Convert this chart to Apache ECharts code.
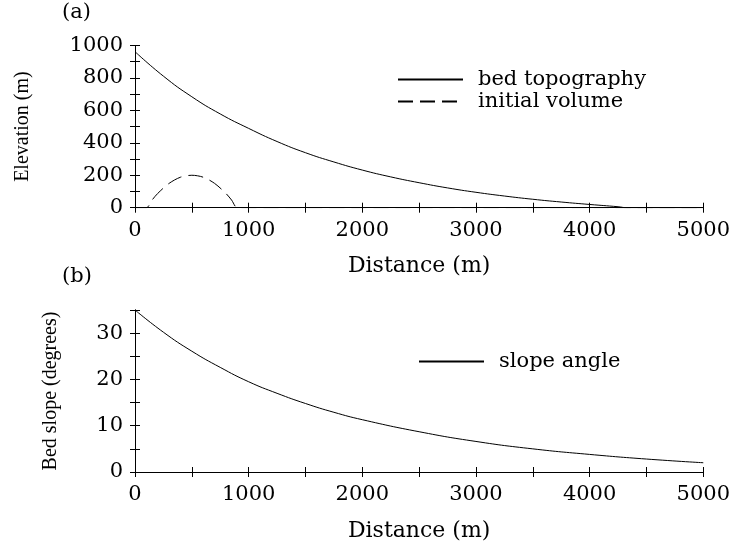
<!DOCTYPE html>
<html>
<head>
<meta charset="utf-8">
<script src="https://cdn.jsdelivr.net/npm/echarts@6/dist/echarts.min.js"></script>
<style>html,body{margin:0;padding:0;background:#fff}#c{width:733px;height:549px}</style>
</head>
<body>
<div id="c"></div>
<script>
// Panel (a): bed topography
const bedDistance = [0, 250, 500, 750, 1000, 1250, 1500, 1750, 2000, 2250, 2500, 2750, 3000, 3250, 3500, 3750, 4000, 4250, 4330, 4500, 5000];
const bedElevation = [962, 811, 684, 578, 489, 408, 339, 282, 232, 190, 154, 122, 95, 72, 52, 35, 20, 6, 0, 0, 0];
// Panel (a): initial volume
const volDistance = [0, 100, 150, 200, 300, 400, 500, 600, 700, 800, 850, 900, 1000, 5000];
const volElevation = [0, 0, 47, 88, 150, 188, 200, 188, 150, 88, 47, 0, 0, 0];
// Panel (b): slope angle
const slopeDistance = [0, 250, 500, 750, 1000, 1250, 1500, 1750, 2000, 2500, 3000, 3500, 4000, 4500, 5000];
const slopeAngle = [35, 30.2, 26.1, 22.6, 19.5, 17.0, 14.8, 12.9, 11.3, 8.7, 6.6, 5.0, 3.8, 2.8, 2.0];

const serif = 'DejaVu Serif';
const ink = '#000';

function zip(a, b) { return a.map((v, i) => [v, b[i]]); }

const chart = echarts.init(document.getElementById('c'));
const lbl = { fontFamily: serif, fontSize: 21, color: ink };

function xAxes(gi) {
  return [{
    gridIndex: gi, type: 'value', min: 0, max: 5000, interval: 500,
    axisLine: { show: true, lineStyle: { color: ink, width: 1 } },
    axisTick: { show: true, inside: true, length: 5, lineStyle: { color: ink } },
    splitLine: { show: false },
    axisLabel: Object.assign({ margin: 12, formatter: v => (v % 1000 === 0 ? String(v) : '') }, lbl),
    name: 'Distance (m)', nameLocation: 'middle', nameGap: 48,
    nameTextStyle: { fontFamily: serif, fontSize: 22, color: ink }
  }, {
    gridIndex: gi, type: 'value', min: 0, max: 5000, interval: 500, position: 'top',
    axisLine: { show: true, lineStyle: { color: ink, width: 1 } },
    axisTick: { show: true, inside: true, length: 5, lineStyle: { color: ink } },
    splitLine: { show: false }, axisLabel: { show: false }
  }];
}
function yAxes(gi, max, interval, labelStep, name, gap) {
  return [{
    gridIndex: gi, type: 'value', min: 0, max: max, interval: interval,
    axisLine: { show: true, lineStyle: { color: ink, width: 1 } },
    axisTick: { show: true, inside: true, length: 5, lineStyle: { color: ink } },
    splitLine: { show: false },
    axisLabel: Object.assign({ margin: 12, formatter: v => (v % labelStep === 0 ? String(v) : '') }, lbl),
    name: name, nameLocation: 'middle', nameGap: gap, nameRotate: 90,
    nameTextStyle: { fontFamily: 'Liberation Serif', fontSize: 20, color: ink }
  }, {
    gridIndex: gi, type: 'value', min: 0, max: max, interval: interval, position: 'right',
    axisLine: { show: true, lineStyle: { color: ink, width: 1 } },
    axisTick: { show: true, inside: true, length: 5, lineStyle: { color: ink } },
    splitLine: { show: false }, axisLabel: { show: false }
  }];
}

const legendText = { fontFamily: serif, fontSize: 21, color: ink, padding: [0, 0, 0, 10] };
const legendItem = { color: 'transparent', borderWidth: 0, opacity: 0 };

chart.setOption({
  animation: false,
  backgroundColor: '#fff',
  title: [
    { text: '(a)', left: 57, top: -3, textStyle: { fontFamily: serif, fontSize: 21, fontWeight: 'normal', color: ink } },
    { text: '(b)', left: 57, top: 261, textStyle: { fontFamily: serif, fontSize: 21, fontWeight: 'normal', color: ink } }
  ],
  grid: [
    { left: 135, top: 45.5, width: 569, height: 162.2 },
    { left: 135, top: 310, width: 569, height: 162 }
  ],
  xAxis: [...xAxes(0), ...xAxes(1)],
  yAxis: [...yAxes(0, 1000, 100, 200, 'Elevation (m)', 102), ...yAxes(1, 35, 5, 10, 'Bed slope (degrees)', 74)],
  legend: [
    { data: ['bed topography', 'initial volume'], orient: 'vertical', left: 392, top: 64, itemWidth: 65, itemHeight: 14, itemGap: 1, itemStyle: legendItem, textStyle: legendText },
    { data: ['slope angle'], orient: 'vertical', left: 413, top: 346, itemWidth: 65, itemHeight: 14, itemStyle: legendItem, textStyle: legendText }
  ],
  series: [
    { name: 'bed topography', type: 'line', xAxisIndex: 0, yAxisIndex: 0, data: zip(bedDistance, bedElevation), symbol: 'none', smooth: true, lineStyle: { color: ink, width: 1 }, itemStyle: { color: ink } },
    { name: 'initial volume', type: 'line', xAxisIndex: 0, yAxisIndex: 0, data: zip(volDistance, volElevation), symbol: 'none', smooth: 0.3, lineStyle: { color: ink, width: 1, type: [15, 7] }, itemStyle: { color: ink } },
    { name: 'slope angle', type: 'line', xAxisIndex: 2, yAxisIndex: 2, data: zip(slopeDistance, slopeAngle), symbol: 'none', smooth: true, lineStyle: { color: ink, width: 1 }, itemStyle: { color: ink } }
  ]
});
</script>
</body>
</html>
